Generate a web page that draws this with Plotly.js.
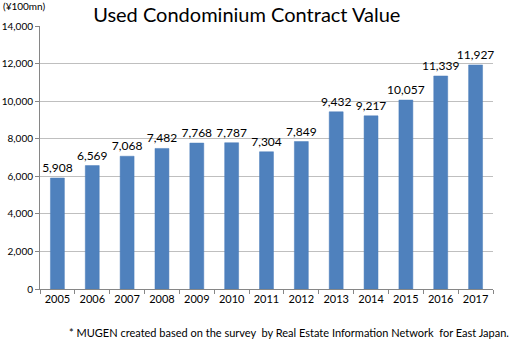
<!DOCTYPE html>
<html>
<head>
<meta charset="utf-8">
<script src="https://cdn.plot.ly/plotly-3.0.1.min.js"></script>
<style>
html,body{margin:0;padding:0;background:#fff;}
#chart{width:512px;height:341px;}
</style>
</head>
<body>
<div id="chart"></div>
<script>
const years = ["2005","2006","2007","2008","2009","2010","2011","2012","2013","2014","2015","2016","2017"];
const values = [5908, 6569, 7068, 7482, 7768, 7787, 7304, 7849, 9432, 9217, 10057, 11339, 11927];
const yTicks = [0, 2000, 4000, 6000, 8000, 10000, 12000, 14000];
const yTickLabels = yTicks.map(v => v.toLocaleString("en-US"));
const valueLabels = values.map(v => v.toLocaleString("en-US"));

const font = "Lato, 'Open Sans', sans-serif";

const trace = {
  type: "bar",
  x: years,
  y: values,
  text: valueLabels,
  textposition: "outside",
  constraintext: "none",
  cliponaxis: false,
  textfont: {family: font, size: 12, color: "#000"},
  marker: {color: "#4F81BD", line: {color: "#4A7DBA", width: 0.5}},
  hoverinfo: "none"
};

const layout = {
  width: 512,
  height: 341,
  margin: {l: 40, r: 19, t: 26, b: 52},
  paper_bgcolor: "#fff",
  plot_bgcolor: "#fff",
  bargap: 0.6,
  showlegend: false,
  font: {family: font, color: "#000"},
  title: {
    text: "Used Condominium Contract Value",
    font: {family: font, size: 20, color: "#000"},
    x: 0.482, xanchor: "center", y: 0.955, yanchor: "middle"
  },
  xaxis: {
    type: "category",
    tickson: "boundaries",
    tickangle: 0,
    ticks: "outside",
    ticklen: 4,
    tickcolor: "#868686",
    showline: true,
    linecolor: "#868686",
    linewidth: 1,
    showgrid: false,
    tickfont: {family: font, size: 11, color: "#000"}
  },
  yaxis: {
    range: [0, 14000],
    tickvals: yTicks,
    ticktext: yTickLabels,
    ticks: "outside",
    ticklen: 4,
    tickcolor: "#868686",
    showline: true,
    linecolor: "#868686",
    linewidth: 1,
    showgrid: true,
    gridcolor: "#bfbfbf",
    gridwidth: 1,
    zeroline: false,
    tickfont: {family: font, size: 10, color: "#000"}
  },
  annotations: [
    {
      text: "(¥100mn)", xref: "paper", yref: "paper",
      x: -0.085, y: 1.075, xanchor: "left", yanchor: "middle",
      showarrow: false, font: {family: font, size: 10, color: "#000"}
    },
    {
      text: "* MUGEN created based on the survey  by Real Estate Information Network  for East Japan.",
      xref: "paper", yref: "paper",
      x: 1.04, y: -0.165, xanchor: "right", yanchor: "middle",
      showarrow: false, font: {family: font, size: 11, color: "#000"}
    }
  ]
};

Plotly.newPlot("chart", [trace], layout, {staticPlot: true, displayModeBar: false});
</script>
</body>
</html>
